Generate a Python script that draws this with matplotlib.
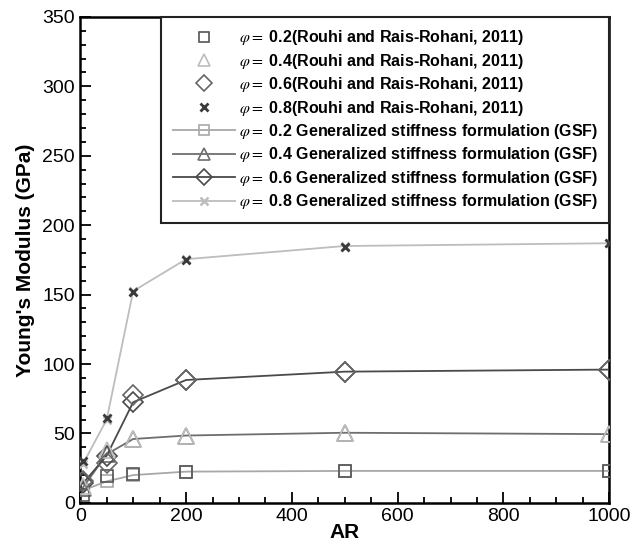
import matplotlib
matplotlib.use('Agg')
import matplotlib.pyplot as plt
from matplotlib.ticker import MultipleLocator

plt.rcParams['font.family'] = ['Liberation Sans', 'DejaVu Sans']
plt.rcParams['mathtext.fontset'] = 'stix'

# 데이터
ar = [5, 50, 100, 200, 500, 1000]

ref_02 = [6, 19, 21, 22.5, 23, 23]
ref_04 = [12, 38, 46, 48.5, 50.5, 49.5]
ref_06 = [16, 29, 77.5, 88.5, 94.5, 96]
ref_08 = [30, 61, 152, 175, 184, 187]

gsf_02 = [9, 15.5, 20, 22.5, 23, 23]
gsf_04 = [11, 35, 46, 48.5, 50.5, 49.5]
gsf_06 = [14, 34, 72.5, 88.5, 94.5, 96]
gsf_08 = [28, 60, 152.5, 175.5, 185, 187]

phis = ['0.2', '0.4', '0.6', '0.8']


def main():
    fig = plt.figure(figsize=(6.32, 5.46), dpi=100)
    ax = fig.add_axes([0.127, 0.079, 0.837, 0.89])

    # GSF 곡선
    gsf = [gsf_02, gsf_04, gsf_06, gsf_08]
    gsf_mk = ['s', '^', 'D', 'x']
    gsf_col = ['#a8a8a8', '#6e6e6e', '#4a4a4a', '#bdbdbd']
    gsf_ms = [9, 11, 10, 6]
    # 참고 데이터 (마커만)
    ref = [ref_02, ref_04, ref_06, ref_08]
    ref_mk = ['s', '^', 'D', 'x']
    ref_col = ['#555555', '#bdbdbd', '#666666', '#3a3a3a']
    ref_ms = [9, 11, 10, 6]

    handles = []
    for i in range(4):
        h, = ax.plot(ar, ref[i], ref_mk[i], color=ref_col[i], ms=ref_ms[i],
                     mfc='none', mec=ref_col[i], mew=1.2 if i < 3 else 2.0,
                     label=r'$\varphi=$ ' + phis[i] + '(Rouhi and Rais-Rohani, 2011)',
                     zorder=4)
        handles.append(h)
    for i in range(4):
        h, = ax.plot(ar, gsf[i], '-', marker=gsf_mk[i], color=gsf_col[i], lw=1.3,
                     ms=gsf_ms[i], mfc='none', mec=gsf_col[i], mew=1.2 if i < 3 else 1.8,
                     label=r'$\varphi=$ ' + phis[i] + ' Generalized stiffness formulation (GSF)',
                     zorder=3)
        handles.append(h)

    ax.set_xlim(0, 1000)
    ax.set_ylim(0, 350)
    ax.xaxis.set_major_locator(MultipleLocator(200))
    ax.xaxis.set_minor_locator(MultipleLocator(50))
    ax.yaxis.set_major_locator(MultipleLocator(50))
    ax.yaxis.set_minor_locator(MultipleLocator(10))
    ax.tick_params(which='both', direction='in', labelsize=14, width=1.3)
    ax.tick_params(which='major', length=8, pad=4)
    ax.tick_params(which='minor', length=4)
    for s in ax.spines.values():
        s.set_linewidth(1.8)

    ax.set_xlabel('AR', fontsize=15, fontweight='bold', labelpad=-2)
    ax.set_ylabel("Young's Modulus (GPa)", fontsize=15, fontweight='bold', labelpad=5)

    leg = ax.legend(handles=handles, loc='upper right', bbox_to_anchor=(1.0, 1.0),
                    prop={'size': 11.5, 'weight': 'bold'}, handlelength=3.9,
                    handletextpad=0.25, labelspacing=0.28, borderpad=0.7,
                    markerscale=0.85,
                    fancybox=False, framealpha=1, edgecolor='#222222', borderaxespad=0)
    leg.get_frame().set_linewidth(1.5)

    fig.savefig('out.png', dpi=100)


if __name__ == '__main__':
    main()
